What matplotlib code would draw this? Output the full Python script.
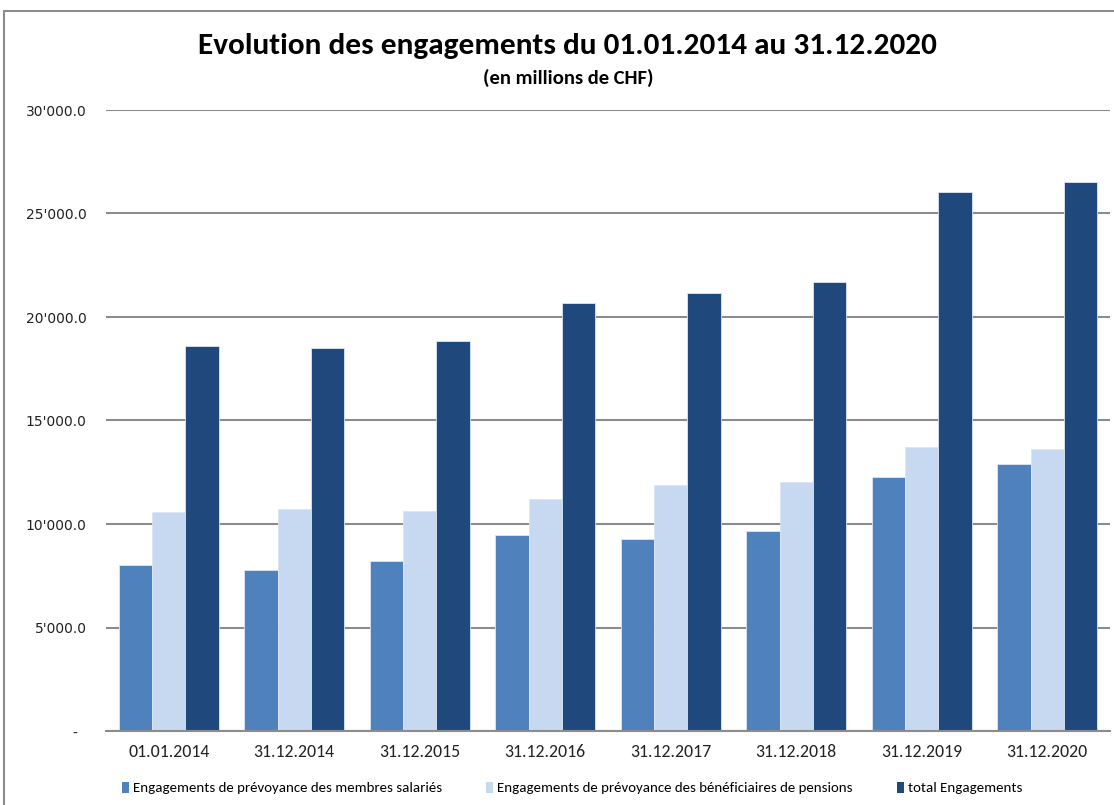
import matplotlib
matplotlib.use("Agg")
import matplotlib.pyplot as plt
import numpy as np
from matplotlib.patches import Rectangle, Patch
from matplotlib.ticker import FuncFormatter, MultipleLocator
from matplotlib import font_manager

categories = ["01.01.2014", "31.12.2014", "31.12.2015", "31.12.2016",
              "31.12.2017", "31.12.2018", "31.12.2019", "31.12.2020"]
salaries = [8000, 7790, 8200, 9480, 9290, 9660, 12290, 12900]
pensionnes = [10600, 10710, 10630, 11190, 11880, 12030, 13730, 13620]
total = [18600, 18500, 18830, 20670, 21170, 21690, 26020, 26520]
series_names = ["Engagements de prévoyance des membres salariés",
                "Engagements de prévoyance des bénéficiaires de pensions",
                "total Engagements"]
colors = ["#4F81BD", "#C6D9F1", "#1F497D"]

names = {f.name for f in font_manager.fontManager.ttflist}
narrow = "DejaVu Sans"
for cand in ["Carlito", "PT Sans Narrow", "Roboto Condensed", "Open Sans Condensed"]:
    if cand in names:
        narrow = cand
        break

W, H = 1114, 805
fig = plt.figure(figsize=(W / 100, H / 100), dpi=100)
renderer = fig.canvas.get_renderer()


def fit(txt, target_px):
    """scale font size so that the text spans target_px horizontally"""
    fs = txt.get_fontsize()
    for _ in range(3):
        w = txt.get_window_extent(renderer).width
        fs = fs * target_px / w
        txt.set_fontsize(fs)
    return fs


# chart border
fig.patches.append(Rectangle((4 / W, -0.05), 1.2, (H - 11) / H + 0.05,
                             transform=fig.transFigure, fill=False,
                             edgecolor="#8c8c8c", linewidth=1.5))

ax = fig.add_axes([106 / W, 74 / H, (1110 - 106) / W, (731 - 110) / H])
x = np.arange(len(categories))
bw = 0.8 / 3
for i, (vals, col) in enumerate(zip([salaries, pensionnes, total], colors)):
    ax.bar(x + (i - 1) * bw, vals, width=bw, color=col, edgecolor="#dce6f2",
           linewidth=0.6, label=series_names[i], zorder=3)

ax.set_xlim(-0.5, len(categories) - 0.5)
ax.set_ylim(0, 30000)
ax.yaxis.set_major_locator(MultipleLocator(5000))


def fmt(v, pos):
    if v == 0:
        return "-  "
    return f"{v:,.1f}".replace(",", "'")


ax.yaxis.set_major_formatter(FuncFormatter(fmt))
ax.grid(axis="y", color="#8c8c8c", linewidth=1.5, zorder=0)
for s in ["top", "right", "left"]:
    ax.spines[s].set_visible(False)
ax.spines["bottom"].set_color("#8c8c8c")
ax.spines["bottom"].set_linewidth(1.5)
ax.spines["bottom"].set_zorder(4)
ax.tick_params(axis="y", length=0, pad=14, labelsize=10, labelcolor="#222222")
ax.set_xticks(x)
ax.set_xticklabels(categories, fontfamily=narrow, fontsize=12, color="#222222")
for lab in ax.get_yticklabels():
    lab.set_fontfamily("DejaVu Sans")

# fit x tick label size
probe = fig.text(0, 0, categories[0], fontfamily=narrow, fontsize=12)
xfs = fit(probe, 81)
probe.remove()
ax.tick_params(axis="x", length=0, pad=9, labelsize=xfs)

title = fig.text(567 / W, 1 - 46 / H, "Evolution des engagements du 01.01.2014 au 31.12.2020",
                 ha="center", va="center", fontsize=23, fontweight="bold", fontfamily=narrow)
fit(title, 740)
sub = fig.text(568 / W, 1 - 78 / H, "(en millions de CHF)", ha="center", va="center",
               fontsize=12, fontweight="bold", fontfamily=narrow)
fit(sub, 170)

probe = fig.text(0, 0, series_names[0], fontfamily=narrow, fontsize=10)
lfs = fit(probe, 305)
probe.remove()
px = lfs * 100 / 72
handles = [Patch(facecolor=c, edgecolor="none") for c in colors]
leg = fig.legend(handles, series_names, loc="center left", bbox_to_anchor=(122 / W, 17 / H),
                 ncol=3, frameon=False, prop={"family": narrow, "size": lfs},
                 handlelength=7 / px, handleheight=0.75, handletextpad=4 / px,
                 columnspacing=44 / px, borderpad=0, borderaxespad=0)

fig.savefig("out.png", dpi=100)
